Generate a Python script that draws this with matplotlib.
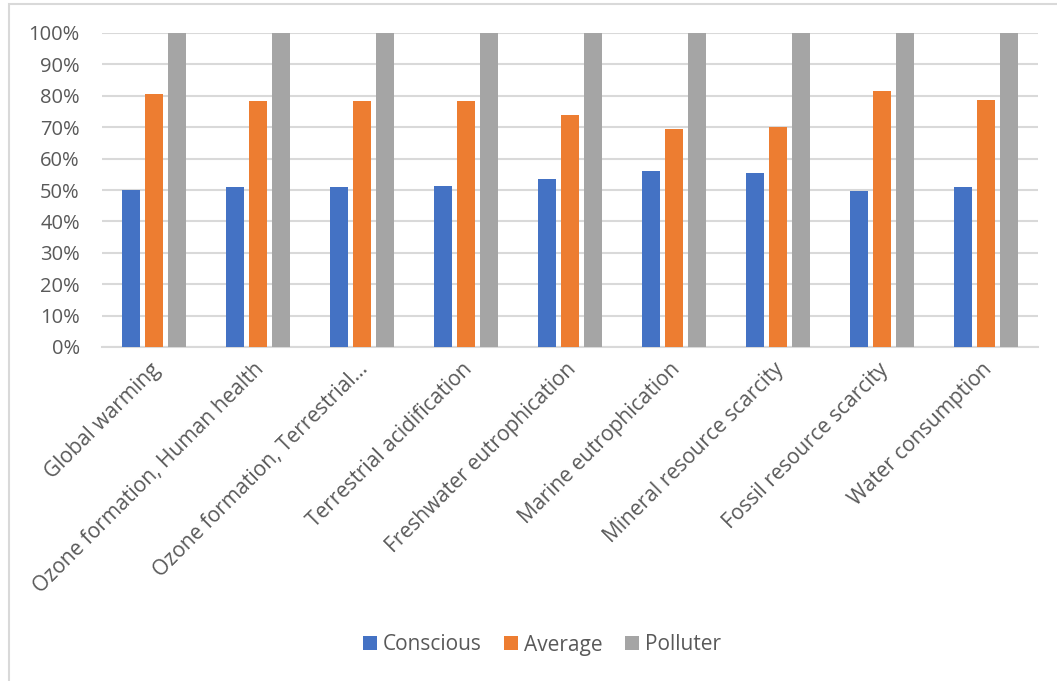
import matplotlib

matplotlib.use("Agg")
import matplotlib.pyplot as plt  # noqa: E402
import matplotlib.transforms as mtransforms  # noqa: E402
import numpy as np  # noqa: E402
from matplotlib.patches import Rectangle  # noqa: E402

categories = [
    "Global warming",
    "Ozone formation, Human health",
    "Ozone formation, Terrestrial...",
    "Terrestrial acidification",
    "Freshwater eutrophication",
    "Marine eutrophication",
    "Mineral resource scarcity",
    "Fossil resource scarcity",
    "Water consumption",
]
conscious = [0.499, 0.510, 0.510, 0.512, 0.535, 0.559, 0.555, 0.496, 0.509]
average = [0.806, 0.785, 0.785, 0.783, 0.738, 0.694, 0.700, 0.815, 0.788]
polluter = [1.0, 1.0, 1.0, 1.0, 1.0, 1.0, 1.0, 1.0, 1.0]
series_names = ["Conscious", "Average", "Polluter"]
yticks = [0.0, 0.1, 0.2, 0.3, 0.4, 0.5, 0.6, 0.7, 0.8, 0.9, 1.0]

BLUE, ORANGE, GREY = "#4472C4", "#ED7D31", "#A5A5A5"
TXT = "#595959"
GRID = "#D9D9D9"

plt.rcParams.update({"font.family": ["Open Sans", "DejaVu Sans"], "font.size": 14.5})

W, H = 1057, 681
fig = plt.figure(figsize=(W / 100, H / 100), dpi=100)
fig.patch.set_facecolor("white")

# chart frame (extends past the right and bottom edges)
fig.patches.append(
    Rectangle((9 / W, -0.05), 1.2, 1 - 4 / H + 0.05, transform=fig.transFigure,
              fill=False, edgecolor=GRID, lw=1.5, zorder=0)
)

ax = fig.add_axes([102 / W, 1 - 347 / H, (1038 - 102) / W, (347 - 33) / H])
x = np.arange(len(categories))
bw = 0.173
step = 0.221
for k, (vals, col, name) in enumerate(zip([conscious, average, polluter],
                                          [BLUE, ORANGE, GREY], series_names)):
    ax.bar(x + (k - 1) * step, vals, width=bw, color=col, label=name, zorder=3)

ax.set_xlim(-0.5, len(categories) - 0.5)
ax.set_ylim(0, 1)
ax.set_yticks(yticks)
ax.set_yticklabels([f"{int(round(v * 100))}%" for v in yticks], color=TXT)
ax.tick_params(axis="y", length=0, pad=16)
ax.yaxis.grid(True, color=GRID, lw=1.5, zorder=0)
ax.set_axisbelow(True)
for s in ["top", "right", "left"]:
    ax.spines[s].set_visible(False)
ax.spines["bottom"].set_color(GRID)
ax.spines["bottom"].set_linewidth(1.5)

ax.set_xticks(x)
ax.set_xticklabels(categories, rotation=45, ha="right", va="center",
                   rotation_mode="anchor", color=TXT, fontsize=15.1)
ax.tick_params(axis="x", length=0, pad=14)
offset = mtransforms.ScaledTranslation(3 / 100, 0, fig.dpi_scale_trans)
for lab in ax.get_xticklabels():
    lab.set_transform(lab.get_transform() + offset)

ax.legend(loc="center", bbox_to_anchor=(542 / W, 1 - 645 / H),
          bbox_transform=fig.transFigure, ncol=3, frameon=False, fontsize=15,
          handlelength=0.68, handleheight=0.68, handletextpad=0.3,
          columnspacing=1.05, labelcolor=TXT)

fig.savefig("out.png", dpi=100)
